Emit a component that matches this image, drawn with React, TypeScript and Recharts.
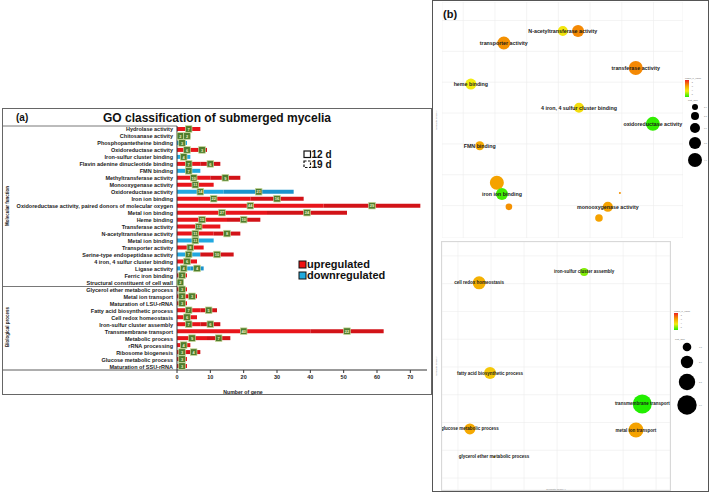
import React from 'react'
import {
  BarChart,
  Bar,
  XAxis,
  YAxis,
  Cell,
  LabelList,
  ScatterChart,
  Scatter,
  ZAxis,
  CartesianGrid,
} from 'recharts'

// ---- (a) GO classification ----
const goTerms = [
  'Hydrolase activity',
  'Chitosanase activity',
  'Phosphopantetheine binding',
  'Oxidoreductase activity',
  'Iron-sulfur cluster binding',
  'Flavin adenine dinucleotide binding',
  'FMN binding',
  'Methyltransferase activity',
  'Monooxygenase activity',
  'Oxidoreductase activity',
  'Iron ion binding',
  'Oxidoreductase activity, paired donors of molecular oxygen',
  'Metal ion binding',
  'Heme binding',
  'Transferase activity',
  'N-acetyltransferase activity',
  'Metal ion binding',
  'Transporter activity',
  'Serine-type endopeptidase activity',
  '4 iron, 4 sulfur cluster binding',
  'Ligase activity',
  'Ferric iron binding',
  'Structural constituent of cell wall',
  'Glycerol ether metabolic process',
  'Metal ion transport',
  'Maturation of LSU-rRNA',
  'Fatty acid biosynthetic process',
  'Cell redox homeostasis',
  'Iron-sulfur cluster assembly',
  'Transmembrane transport',
  'Metabolic process',
  'rRNA processing',
  'Ribosome biogenesis',
  'Glucose metabolic process',
  'Maturation of SSU-rRNA',
]
const day12 = [7, 2, 3, 6, 4, 7, 7, 10, 11, 14, 22, 44, 27, 15, 13, 11, 11, 8, 7, 6, 4, 3, 2, 3, 3, 3, 7, 6, 7, 40, 9, 4, 3, 3, 3]
const day19 = [0, 2, 0, 3, 0, 6, 0, 9, 0, 21, 16, 29, 24, 10, 0, 8, 0, 0, 10, 0, 4, 0, 0, 0, 3, 0, 5, 0, 6, 22, 7, 0, 4, 0, 0]
// u = upregulated, d = downregulated
const reg12 = 'uddududuuduuuuuududududuuuuuuuuuuuu'.split('')
const reg19 = 'uddududuuduuuuuuduuuduuuuuuuuuuuuuu'.split('')
const xTicks = [0, 10, 20, 30, 40, 50, 60, 70]

// ---- (b) REVIGO bubble plots ----
const mfLabel = [
  'N-acetyltransferase activity', '', 'transporter activity', 'transferase activity', 'heme binding',
  '4 iron, 4 sulfur cluster binding', 'oxidoreductase activity', 'FMN binding', '', 'iron ion binding',
  '', '', 'monooxygenase activity', '',
]
const mfX = [0.14, 0.62, -1.72, 2.44, -2.76, 0.65, 2.98, -2.48, -1.94, -1.78, -1.56, 1.94, 1.56, 1.28]
const mfY = [3.66, 3.66, 3.27, 2.46, 1.94, 1.17, 0.65, -0.06, -1.26, -1.62, -2.04, -1.59, -2.04, -2.4]
const mfSize = [1.43, 2.06, 2.41, 2.8, 1.73, 1.43, 2.8, 1.16, 2.8, 2.06, 0.62, 0.06, 1.43, 0.83]
const mfLogP = [-3.4, -4.6, -4.5, -4.6, -3.3, -3.5, -2.1, -4.2, -4.3, -2.2, -4.5, -4.5, -4.3, -4.3]

const bpLabel = [
  'iron-sulfur cluster assembly', 'cell redox homeostasis', 'fatty acid biosynthetic process',
  'transmembrane transport', 'glucose metabolic process', 'metal ion transport', 'glycerol ether metabolic process',
]
const bpX = [0.82, -2.36, -2.03, 2.58, -2.64, 2.39, -1.91]
const bpY = [3.42, 3.03, -0.22, -1.33, -2.23, -2.27, -3.24]
const bpSize = [0.91, 2.41, 2.06, 5.16, 1.73, 3.21, 0.06]
const bpLogP = [-2.6, -4.1, -3.8, -2.0, -4.2, -4.3, -4.3]

const FONT = '"Liberation Sans", Arial, sans-serif'
const RED = '#e8151b'
const RED2 = '#d21318'
const BLUE = '#22a8e0'
const BLUE2 = '#1b93cc'

const stops: [number, number[]][] = [
  [-2, [34, 238, 0]],
  [-3.3, [242, 236, 16]],
  [-4.3, [245, 162, 0]],
  [-6, [238, 20, 20]],
]
function pColor(v: number) {
  if (v >= stops[0][0]) return `rgb(${stops[0][1].join(',')})`
  for (let i = 0; i < stops.length - 1; i++) {
    const [a, ca] = stops[i]
    const [b, cb] = stops[i + 1]
    if (v <= a && v >= b) {
      const t = (a - v) / (a - b)
      const c = ca.map((x, k) => Math.round(x + (cb[k] - x) * t))
      return `rgb(${c.join(',')})`
    }
  }
  return `rgb(${stops[stops.length - 1][1].join(',')})`
}

const rows = goTerms.map((name, i) => ({ id: String(i), name, d12: day12[i], d19: day19[i] }))
const mfData = mfLabel.map((label, i) => ({ label, x: mfX[i], y: mfY[i], z: mfSize[i], p: mfLogP[i] }))
const bpData = bpLabel.map((label, i) => ({ label, x: bpX[i], y: bpY[i], z: bpSize[i], p: bpLogP[i] }))

function CatTick(props: any) {
  const { x, y, payload } = props
  return (
    <text x={x} y={y} textAnchor="end" dominantBaseline="central" fontSize={5.5} fontWeight={700} fill="#222" fontFamily={FONT}>
      {goTerms[Number(payload.value)]}
    </text>
  )
}

function CountBadge(props: any) {
  const { x, y, width, height, value } = props
  if (!value) return null
  const cx = Number(x) + Number(width) / 2
  const cy = Number(y) + Number(height) / 2
  return (
    <g>
      <rect x={cx - 3.3} y={cy - 3.3} width={6.6} height={6.6} fill="#4f7d2d" stroke="#c9d99a" strokeWidth={0.7} />
      <text x={cx} y={cy + 0.2} textAnchor="middle" dominantBaseline="central" fontSize={4} fontWeight={700} fill="#f3f0c8" fontFamily={FONT}>
        {value}
      </text>
    </g>
  )
}

function BubbleText(fontSize: number) {
  return (props: any) => {
    const { cx, cy, payload } = props
    if (!payload.label) return <g />
    return (
      <text x={cx} y={cy} textAnchor="middle" dominantBaseline="central" fontSize={fontSize} fontWeight={700} fill="#1a1a1a" fontFamily={FONT}>
        {payload.label}
      </text>
    )
  }
}

function ColorBar({ x, y, id }: { x: number; y: number; id: string }) {
  return (
    <g>
      <defs>
        <linearGradient id={id} x1="0" y1="0" x2="0" y2="1">
          <stop offset="0%" stopColor="#ee2020" />
          <stop offset="35%" stopColor="#f5a200" />
          <stop offset="65%" stopColor="#f2ec10" />
          <stop offset="100%" stopColor="#22ee00" />
        </linearGradient>
      </defs>
      <text x={x} y={y - 1.5} fontSize={2.5} fill="#666" fontFamily={FONT}>log10_p_value</text>
      <rect x={x} y={y} width={4} height={17} fill={`url(#${id})`} />
      {[-2, -3, -4, -5].map((t, i) => (
        <text key={t} x={x + 6} y={y + 3 + i * 4} fontSize={2} fill="#777" fontFamily={FONT}>{t}</text>
      ))}
    </g>
  )
}

export default function App() {
  return (
    <div style={{ position: 'fixed', left: 0, top: 0, width: 709, height: 494, background: '#fff', overflow: 'hidden', fontFamily: FONT }}>
      {/* panel (a) frame and decorations */}
      <svg width={709} height={494} style={{ position: 'absolute', left: 0, top: 0 }}>
        <rect x={2.5} y={108.5} width={429} height={286} fill="none" stroke="#666" strokeWidth={1} />
        <line x1={3} y1={126} x2={177} y2={126} stroke="#555" strokeWidth={0.8} />
        <line x1={3} y1={286.5} x2={177} y2={286.5} stroke="#555" strokeWidth={0.8} />
        <line x1={3} y1={370} x2={177} y2={370} stroke="#333" strokeWidth={0.8} />
        <text x={16} y={121} fontSize={10} fontWeight={700} fill="#111" fontFamily={FONT}>(a)</text>
        <text x={217} y={122} textAnchor="middle" fontSize={12} fontWeight={700} fill="#111" fontFamily={FONT}>
          GO classification of submerged mycelia
        </text>
        <text transform="translate(9,206) rotate(-90)" textAnchor="middle" fontSize={4.5} fontWeight={700} fill="#222" fontFamily={FONT}>
          Molecular function
        </text>
        <text transform="translate(9,327) rotate(-90)" textAnchor="middle" fontSize={4.5} fontWeight={700} fill="#222" fontFamily={FONT}>
          Biological process
        </text>
        <text x={243} y={394} textAnchor="middle" fontSize={5.2} fontWeight={700} fill="#222" fontFamily={FONT}>Number of gene</text>
        {/* day legend */}
        <rect x={304} y={151} width={6.5} height={6.5} fill="#fff" stroke="#111" strokeWidth={1.2} />
        <text x={311.5} y={158} fontSize={10} fontWeight={700} fill="#111" fontFamily={FONT}>12 d</text>
        <rect x={304} y={161} width={6.5} height={6.5} fill="#fff" stroke="#111" strokeWidth={1.2} strokeDasharray="2.5 1.5" />
        <text x={311.5} y={168} fontSize={10} fontWeight={700} fill="#111" fontFamily={FONT}>19 d</text>
        {/* regulation legend */}
        <rect x={299} y={261} width={7} height={7} fill="#ee1111" stroke="#111" strokeWidth={1} />
        <text x={307} y={268} fontSize={11} fontWeight={700} fill="#111" fontFamily={FONT}>upregulated</text>
        <rect x={299} y={272} width={7} height={7} fill="#22aadd" stroke="#111" strokeWidth={1} />
        <text x={307} y={279} fontSize={11} fontWeight={700} fill="#111" fontFamily={FONT}>downregulated</text>
      </svg>

      <div style={{ position: 'absolute', left: 0, top: 100 }}>
        <BarChart
          width={432}
          height={299}
          data={rows}
          layout="vertical"
          margin={{ top: 26, right: 5, bottom: 0, left: 0 }}
          barCategoryGap={0}
        >
          <XAxis
            type="number"
            domain={[0, 75]}
            ticks={xTicks}
            height={29}
            tickSize={3}
            stroke="#333"
            tick={{ fontSize: 5.5, fontWeight: 700, fill: '#222', fontFamily: FONT }}
            allowDataOverflow
          />
          <YAxis type="category" dataKey="id" width={177} interval={0} tickLine={false} tickSize={0} tickMargin={4} stroke="#333" tick={<CatTick />} />
          <Bar dataKey="d12" stackId="s" barSize={4} isAnimationActive={false}>
            {rows.map((r, i) => (
              <Cell key={r.id} fill={reg12[i] === 'u' ? RED : BLUE} />
            ))}
            <LabelList dataKey="d12" content={<CountBadge />} />
          </Bar>
          <Bar dataKey="d19" stackId="s" barSize={4} isAnimationActive={false}>
            {rows.map((r, i) => (
              <Cell key={r.id} fill={reg19[i] === 'u' ? RED2 : BLUE2} />
            ))}
            <LabelList dataKey="d19" content={<CountBadge />} />
          </Bar>
        </BarChart>
      </div>

      {/* panel (b) frame */}
      <div style={{ position: 'absolute', left: 432, top: 0, width: 275, height: 490, border: '1px solid #555' }} />

      <div style={{ position: 'absolute', left: 442, top: 2 }}>
        <ScatterChart width={241} height={236} margin={{ top: 0, right: 0, bottom: 0, left: 0 }}>
          <CartesianGrid stroke="#ececec" strokeWidth={0.6} />
          <XAxis type="number" dataKey="x" domain={[-3.67, 3.93]} ticks={[-3, -2, -1, 0, 1, 2, 3]} hide />
          <YAxis type="number" dataKey="y" domain={[-3.05, 4.6]} ticks={[-3, -2, -1, 0, 1, 2, 3, 4]} hide />
          <ZAxis type="number" dataKey="z" domain={[0, 10]} range={[0, 550]} />
          <Scatter data={mfData} shape="circle" isAnimationActive={false}>
            {mfData.map((d, i) => (
              <Cell key={i} fill={pColor(d.p)} />
            ))}
          </Scatter>
          <Scatter data={mfData} shape={BubbleText(5.3)} isAnimationActive={false} />
        </ScatterChart>
      </div>

      <div style={{ position: 'absolute', left: 442, top: 242, width: 228, height: 248, outline: '0.8px solid #d8d8d8' }}>
        <ScatterChart width={228} height={248} margin={{ top: 0, right: 0, bottom: 0, left: 0 }}>
          <CartesianGrid stroke="#ececec" strokeWidth={0.6} />
          <XAxis type="number" dataKey="x" domain={[-3.485, 3.42]} ticks={[-3, -2, -1, 0, 1, 2, 3]} hide />
          <YAxis type="number" dataKey="y" domain={[-4.43, 4.5]} ticks={[-4, -3, -2, -1, 0, 1, 2, 3, 4]} hide />
          <ZAxis type="number" dataKey="z" domain={[0, 10]} range={[0, 550]} />
          <Scatter data={bpData} shape="circle" isAnimationActive={false}>
            {bpData.map((d, i) => (
              <Cell key={i} fill={pColor(d.p)} />
            ))}
          </Scatter>
          <Scatter data={bpData} shape={BubbleText(4.5)} isAnimationActive={false} />
        </ScatterChart>
      </div>

      {/* panel (b) text, legends */}
      <svg width={709} height={494} style={{ position: 'absolute', left: 0, top: 0, pointerEvents: 'none' }}>
        <rect x={683} y={1} width={24} height={238} fill="#fff" />
        <text x={443} y={18} fontSize={11} fontWeight={700} fill="#111" fontFamily={FONT}>(b)</text>
        <text transform="translate(437,120) rotate(-90)" textAnchor="middle" fontSize={2.5} fill="#888" fontFamily={FONT}>semantic space y</text>
        <text transform="translate(437,366) rotate(-90)" textAnchor="middle" fontSize={2.5} fill="#888" fontFamily={FONT}>semantic space y</text>
        <text x={556} y={490} textAnchor="middle" fontSize={2.5} fill="#888" fontFamily={FONT}>semantic space x</text>
        <ColorBar x={685} y={80} id="cbTop" />
        <text x={688} y={101} fontSize={2.5} fill="#666" fontFamily={FONT}>plot_size</text>
        {[3, 4, 5, 6, 7].map((r, i) => (
          <g key={r}>
            <circle cx={695} cy={[107, 116, 128, 143, 160][i]} r={r} fill="#000" />
            <text x={704} y={[108, 117, 129, 144, 161][i]} fontSize={2} fill="#777" fontFamily={FONT}>{(2 + i * 0.5).toFixed(1)}</text>
          </g>
        ))}
        <ColorBar x={674} y={313} id="cbBot" />
        <text x={675} y={340} fontSize={2.5} fill="#666" fontFamily={FONT}>plot_size</text>
        {[4.3, 6.2, 8.2, 9.7].map((r, i) => (
          <g key={r}>
            <circle cx={687} cy={[347, 362, 382, 405][i]} r={r} fill="#000" />
            <text x={699} y={[348, 363, 383, 406][i]} fontSize={2} fill="#777" fontFamily={FONT}>{(1.5 + i * 0.5).toFixed(1)}</text>
          </g>
        ))}
      </svg>
    </div>
  )
}
